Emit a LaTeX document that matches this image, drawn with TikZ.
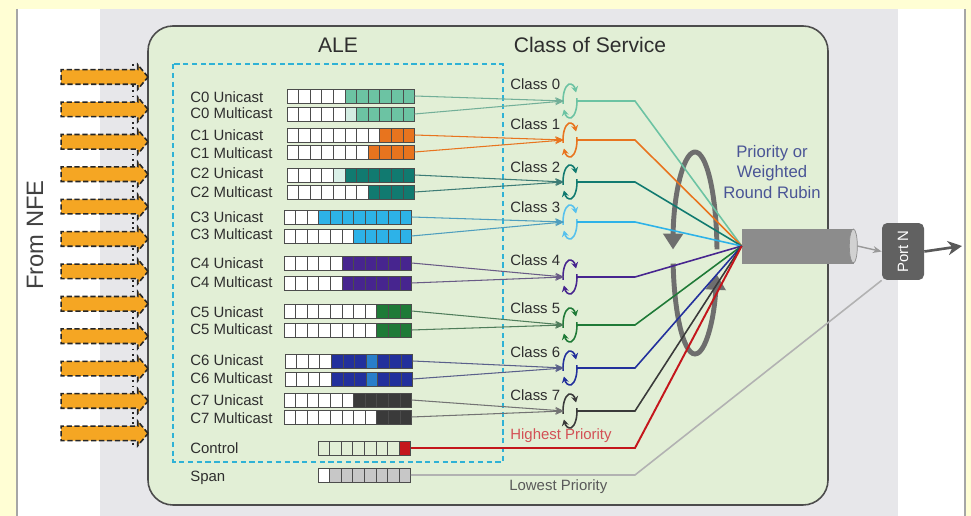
\documentclass[tikz,border=0pt]{standalone}
\usepackage{fontspec}
\setmainfont{Liberation Sans}
\usepackage{tikz}
\usetikzlibrary{arrows.meta,shapes.arrows,shapes.geometric,positioning}

\definecolor{pageyellow}{HTML}{FFFED4}
\definecolor{sidegray}{HTML}{E7E7EA}
\definecolor{panelgreen}{HTML}{E2EFD6}
\definecolor{dashcyan}{HTML}{2FB2D6}
\definecolor{nfeorange}{HTML}{F5A623}
\definecolor{qzero}{HTML}{6CC3A3}
\definecolor{qone}{HTML}{E8741E}
\definecolor{qtwo}{HTML}{117A70}
\definecolor{qthree}{HTML}{2DB2E8}
\definecolor{qfour}{HTML}{47258F}
\definecolor{qfive}{HTML}{1F7A37}
\definecolor{qsix}{HTML}{22309C}
\definecolor{qseven}{HTML}{3A3A3A}
\definecolor{qred}{HTML}{C4161C}
\definecolor{rrgray}{HTML}{6E6E6E}
\definecolor{rrblue}{HTML}{4A5596}
\definecolor{labelgray}{HTML}{2E2E2E}

\newcommand\qbar[7]{%
	\foreach \k in {1,...,#4}{%
		\ifnum\k>#5\relax\def\qc{#6}\else\def\qc{#7}\fi
		\draw[qcell,fill=\qc] ({#2+(\k-1)*11.6},{#3-7}) rectangle ++(11.6,14);
	}
	\coordinate (#1) at ({#2+#4*11.6},#3);
}
\newcommand\qpatch[4]{%
	\draw[qcell,fill=#4] ({#1+(#3-1)*11.6},{#2-7}) rectangle ++(11.6,14);
}
\newcommand\cosring[4]{%
	\coordinate (#1) at (#2,#3);
	\coordinate (#1in) at ({#2-6},#3);
	\coordinate (#1out) at ({#2+7},#3);
	\draw[ringarc,#4] (#1) ++(170:7 and 17) arc[start angle=170,end angle=330,x radius=7,y radius=17];
	\draw[ringarc,#4] (#1) ++(-10:7 and 17) arc[start angle=-10,end angle=150,x radius=7,y radius=17];
}

\begin{document}
\begin{tikzpicture}[x=0.02cm,y=-0.02cm,
	qcell/.style={draw=black!70,line width=0.5pt},
	rowlbl/.style={anchor=west,inner sep=0pt,text=labelgray,font=\fontsize{8.5}{10}\selectfont},
	title/.style={text=labelgray,font=\fontsize{12}{14}\selectfont},
	ringarc/.style={line width=0.9pt,-{Stealth[length=3.5pt,width=4pt]}},
	feed/.style={line width=0.6pt,-{Stealth[length=5pt,width=4pt]}},
	outflow/.style={line width=0.9pt},
	nfearrow/.style={single arrow,draw=black!85,fill=nfeorange,line width=0.9pt,dash pattern=on 3pt off 1.5pt,
		minimum height=1.74cm,inner xsep=0pt,inner ysep=0.13cm,single arrow head extend=0.1cm,single arrow tip angle=100},
	rrarrow/.style={rrgray,line width=2.8pt,-{Triangle[length=9pt,width=11pt]}},
	pipe/.style={draw=black!45,fill=black!45,minimum width=2.22cm,minimum height=0.68cm,inner sep=0pt},
	portbox/.style={fill=black!62,rounded corners=3pt,minimum width=0.84cm,minimum height=1.14cm,
		text=white,inner sep=0pt,font=\fontsize{8.5}{10}\selectfont}]

	\useasboundingbox (0,0) rectangle (971,516);
	\fill[pageyellow] (0,0) rectangle (971,516);
	\fill[white] (17,9) rectangle (965,516);
	\fill[sidegray] (100,9) rectangle (898,516);
	\draw[black!35,line width=0.8pt] (17,9) -- (17,516);
	\draw[black!35,line width=0.8pt] (965,9) -- (965,516);
	\draw[black!70,line width=0.9pt,fill=panelgreen,rounded corners=0.5cm] (148,26) rectangle (828,505);
	\draw[dashcyan,line width=1.1pt,dash pattern=on 3pt off 2pt] (173,64) rectangle (503,462);

	\node[title] (ale) at (338,45) {ALE};
	\node[title] (cos) at (590,45) {Class of Service};

	\draw[black!85,line width=1pt,dotted] (133,64) -- (133,447);
	\foreach \i in {1,...,12}
		\node[nfearrow] (nfe\i) at (101.5,{77+(\i-1)*32.4}) {};
	\node[rotate=90,text=black!75,font=\fontsize{13.5}{15}\selectfont] (fromnfe) at (35,235) {From NFE};

	\foreach \y/\t/\n in {97/C0 Unicast/0u,113/C0 Multicast/0m,135/C1 Unicast/1u,153/C1 Multicast/1m,
		173/C2 Unicast/2u,192/C2 Multicast/2m,217/C3 Unicast/3u,234/C3 Multicast/3m,
		263/C4 Unicast/4u,282/C4 Multicast/4m,312/C5 Unicast/5u,329/C5 Multicast/5m,
		360/C6 Unicast/6u,378/C6 Multicast/6m,400/C7 Unicast/7u,418/C7 Multicast/7m,
		448/Control/ctl,478/Span/span}
		\node[rowlbl] (lbl\n) at (190,\y) {\t};

	\qbar{q0u}{287}{96}{11}{5}{qzero}{white}
	\qbar{q0m}{287}{114}{11}{5}{qzero}{white}
	\qpatch{287}{114}{6}{qzero!30}
	\qbar{q1u}{287}{135}{11}{8}{qone}{white}
	\qbar{q1m}{287}{152}{11}{7}{qone}{white}
	\qbar{q2u}{287}{175}{11}{5}{qtwo}{white}
	\qpatch{287}{175}{5}{qzero!25}
	\qbar{q2m}{287}{192}{11}{7}{qtwo}{white}
	\qbar{q3u}{284}{217}{11}{3}{qthree}{white}
	\qbar{q3m}{284}{236}{11}{6}{qthree}{white}
	\qbar{q4u}{284}{263}{11}{5}{qfour}{white}
	\qbar{q4m}{284}{283}{11}{5}{qfour}{white}
	\qbar{q5u}{284}{311}{11}{8}{qfive}{white}
	\qbar{q5m}{284}{330}{11}{8}{qfive}{white}
	\qbar{q6u}{285}{361}{11}{4}{qsix}{white}
	\qpatch{285}{361}{8}{qthree!60!qsix}
	\qbar{q6m}{285}{379}{11}{4}{qsix}{white}
	\qpatch{285}{379}{8}{qthree!60!qsix}
	\qbar{q7u}{284}{400}{11}{6}{qseven}{white}
	\qbar{q7m}{284}{417}{11}{8}{qseven}{white}
	\qbar{qctl}{318}{448}{8}{7}{qred}{panelgreen}
	\qbar{qspan}{318}{475}{8}{1}{black!22}{white}

	\node[rowlbl] (cls0) at (510,84) {Class 0};
	\node[rowlbl] (cls1) at (510,124) {Class 1};
	\node[rowlbl] (cls2) at (510,167) {Class 2};
	\node[rowlbl] (cls3) at (510,207) {Class 3};
	\node[rowlbl] (cls4) at (510,260) {Class 4};
	\node[rowlbl] (cls5) at (510,308) {Class 5};
	\node[rowlbl] (cls6) at (510,352) {Class 6};
	\node[rowlbl] (cls7) at (510,395) {Class 7};
	\node[rowlbl,text=qred!75] (hiprio) at (510,436) {Highest Priority};
	\node[rowlbl,text=black!65] (loprio) at (509,487) {Lowest Priority};

	\cosring{cl0}{570}{101}{qzero}
	\cosring{cl1}{570}{140}{qone}
	\cosring{cl2}{570}{182}{qtwo}
	\cosring{cl3}{570}{222}{qthree!80}
	\cosring{cl4}{570}{277}{qfour}
	\cosring{cl5}{570}{325}{qfive}
	\cosring{cl6}{570}{368}{qsix}
	\cosring{cl7}{570}{411}{qseven}

	\node[pipe] (cyl) at (797.5,246) {};
	\draw[draw=black!45,fill=black!18] (cyl.east) ellipse[x radius=4,y radius=17];
	\node[portbox] (port) at (903,251.5) {\rotatebox{90}{Port N}};
	\coordinate (outn) at (962,246);
	\coordinate (knee) at (635,0);
	\coordinate (rr) at (695,253);

	\draw[rrarrow] (rr) ++(-2:22 and 101) arc[start angle=-2,end angle=-178,x radius=22,y radius=101];
	\draw[rrarrow] (rr) ++(-186:22 and 101) arc[start angle=-186,end angle=-348,x radius=22,y radius=101];

	\foreach \i/\col in {0/qzero!70!gray,1/qone,2/qtwo!60!gray,3/qthree!60!gray,4/qfour!40!gray,5/qfive!50!gray,6/qsix!40!gray,7/black!55}{
		\draw[feed,\col] (q\i u) -- (cl\i in);
		\draw[feed,\col] (q\i m) -- (cl\i in);
	}
	\foreach \i/\col in {0/qzero,1/qone,2/qtwo,3/qthree,4/qfour,5/qfive,6/qsix,7/qseven}
		\draw[outflow,\col] (cl\i out) -- (cl\i out -| knee) -- (cyl.west);
	\draw[outflow,qred,line width=1.1pt] (qctl) -- (qctl -| knee) -- (cyl.west);
	\draw[outflow,black!30] (qspan) -- (qspan -| knee) -- (port.south west);

	\node[align=center,text=rrblue,font=\fontsize{9.5}{11.5}\selectfont] (rrtext) at (772,172) {Priority or\\Weighted\\Round Rubin};

	\draw[black!40,line width=0.8pt,-{Stealth[length=5pt,width=4pt]}] ([xshift=0.08cm]cyl.east) -- (port.west);
	\draw[black!65,line width=1.5pt,-{Stealth[length=8pt,width=8pt,inset=2.5pt]}] (port.east) -- (outn);

\end{tikzpicture}
\end{document}
